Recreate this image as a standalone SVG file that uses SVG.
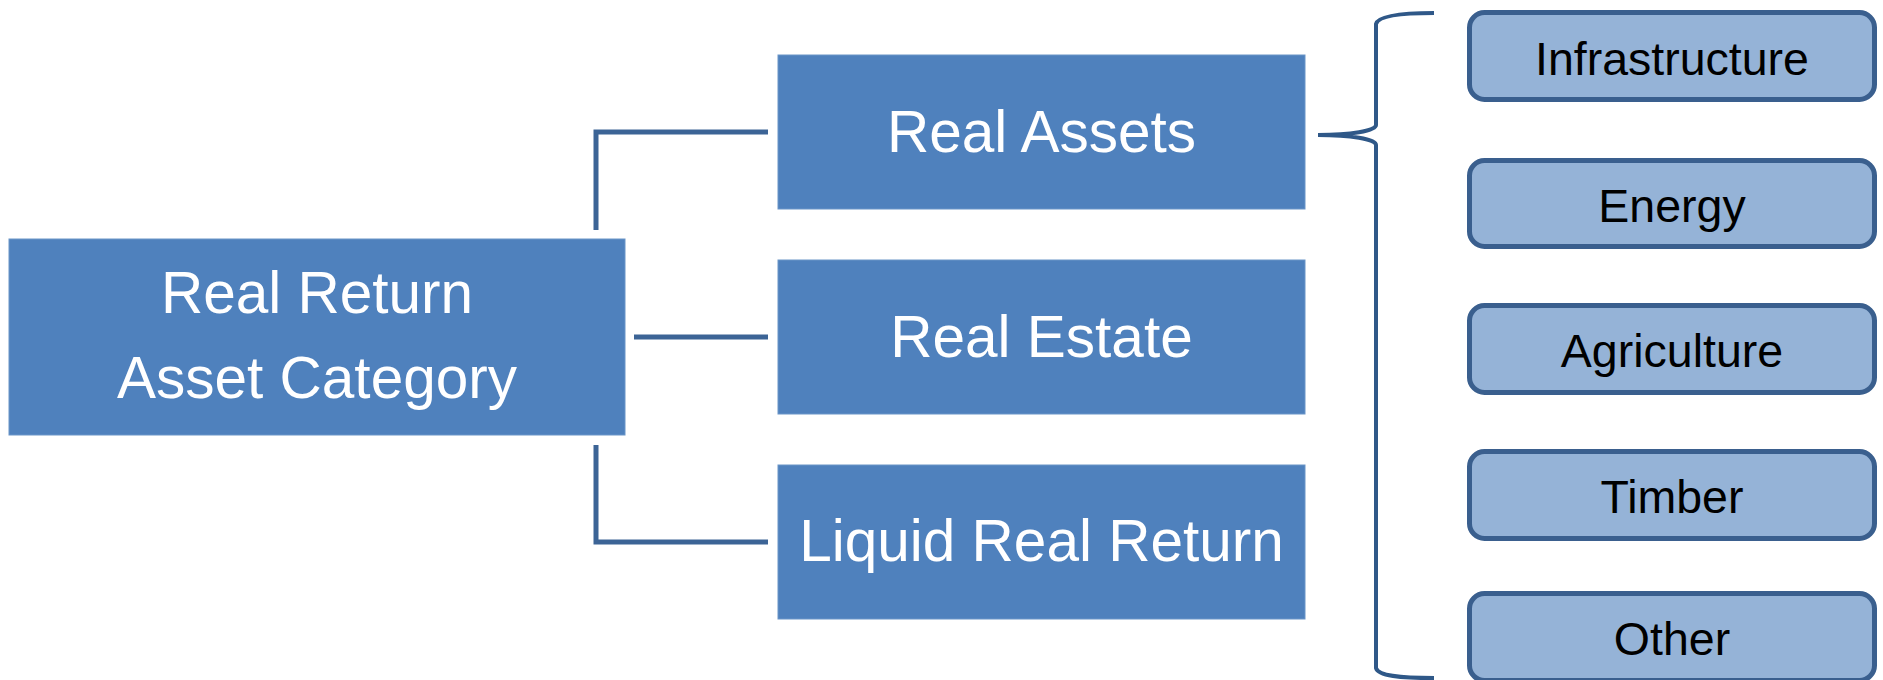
<svg xmlns="http://www.w3.org/2000/svg" width="1883" height="680" viewBox="0 0 1883 680">
<style>
.main{fill:#4F81BD;stroke:#6A95C8;stroke-width:1}
.mt{font-family:"Liberation Sans",Arial,sans-serif;font-size:58.5px;fill:#FFFFFF;text-anchor:middle}
.sub{fill:#95B3D7;stroke:#3A5F8E;stroke-width:5}
.st{font-family:"Liberation Sans",Arial,sans-serif;font-size:46.5px;fill:#000000;text-anchor:middle}
.conn{fill:none;stroke:#3C6496;stroke-width:5}
.brace{fill:none;stroke:#2F5888;stroke-width:4}
</style>
<rect width="1883" height="680" fill="#FFFFFF"/>
<g id="connectors">
<path class="conn" d="M596,230 L596,132 L768,132"/>
<path class="conn" d="M634,337 L768,337"/>
<path class="conn" d="M596,445 L596,542 L768,542"/>
<path class="brace" d="M1434,13 C1400,13 1378,16 1376,24 L1376,125 C1376,131 1350,135 1318,135 C1350,135 1376,139 1376,145 L1376,668 C1378,676 1400,678 1434,678"/>
</g>
<g id="root">
<rect class="main" x="9" y="239" width="616" height="196"/>
<text class="mt" x="317" y="313">Real Return</text>
<text class="mt" x="317" y="398">Asset Category</text>
</g>
<g id="real-assets">
<rect class="main" x="778" y="55" width="527" height="154"/>
<text class="mt" x="1041.5" y="152">Real Assets</text>
</g>
<g id="real-estate">
<rect class="main" x="778" y="260" width="527" height="154"/>
<text class="mt" x="1041.5" y="357">Real Estate</text>
</g>
<g id="liquid-real-return">
<rect class="main" x="778" y="465" width="527" height="154"/>
<text class="mt" x="1041.5" y="561">Liquid Real Return</text>
</g>
<g id="infrastructure">
<rect class="sub" x="1469.5" y="12.5" width="405" height="87" rx="15"/>
<text class="st" x="1672" y="75">Infrastructure</text>
</g>
<g id="energy">
<rect class="sub" x="1469.5" y="160.5" width="405" height="86" rx="15"/>
<text class="st" x="1672" y="222">Energy</text>
</g>
<g id="agriculture">
<rect class="sub" x="1469.5" y="305.5" width="405" height="87" rx="15"/>
<text class="st" x="1672" y="367">Agriculture</text>
</g>
<g id="timber">
<rect class="sub" x="1469.5" y="451.5" width="405" height="87" rx="15"/>
<text class="st" x="1672" y="513">Timber</text>
</g>
<g id="other">
<rect class="sub" x="1469.5" y="593.5" width="405" height="87" rx="15"/>
<text class="st" x="1672" y="655">Other</text>
</g>
</svg>
